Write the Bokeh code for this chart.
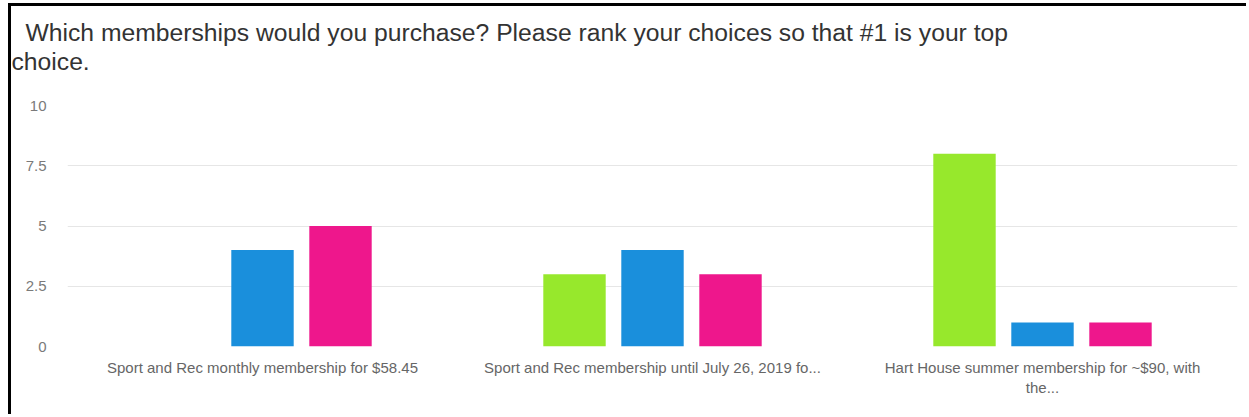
from bokeh.plotting import figure
from bokeh.models import FactorRange, FixedTicker, Range1d, ColumnDataSource, Title
from bokeh.transform import dodge
from bokeh.embed import file_html
from bokeh.resources import INLINE

# ---- data ----
categories = [
    "Sport and Rec monthly membership for $58.45",
    "Sport and Rec membership until July 26, 2019 fo...",
    "Hart House summer membership for ~$90, with\nthe...",
]
series_names = ["Rank 1", "Rank 2", "Rank 3"]
rank1 = [0, 3, 8]
rank2 = [4, 4, 1]
rank3 = [5, 3, 1]
y_ticks = [0, 2.5, 5, 7.5, 10]
y_tick_labels = ["0", "2.5", "5", "7.5", "10"]
title_line1 = "Which memberships would you purchase? Please rank your choices so that #1 is your top"
title_line2 = "choice."

colors = ["#97e82c", "#1a8fdc", "#ee178c"]

source = ColumnDataSource(dict(cat=categories, r1=rank1, r2=rank2, r3=rank3))

p = figure(
    width=1235, height=408,
    x_range=FactorRange(*categories, range_padding=0),
    y_range=Range1d(0, 10),
    output_backend="svg", toolbar_location=None,
    min_border_left=56, min_border_right=12,
    min_border_top=0, min_border_bottom=71,
    background_fill_color="white", border_fill_color="white",
)
p.styles = {
    "margin-left": "8px", "margin-top": "3px",
    "border-left": "3px solid black", "border-top": "3px solid black",
    "border-right": "none", "border-bottom": "none",
    "box-sizing": "content-box",
}
p.outline_line_color = None

offsets = [-0.2, 0.0, 0.2]
for col, off, c in zip(["r1", "r2", "r3"], offsets, colors):
    p.vbar(x=dodge("cat", off, range=p.x_range), top=col, width=0.16,
           source=source, fill_color=c, line_color=None)

p.xgrid.grid_line_color = None
p.ygrid.grid_line_color = "#e6e6e6"
p.ygrid.grid_line_width = 1

p.yaxis.ticker = FixedTicker(ticks=y_ticks)
p.yaxis.major_label_overrides = {t: l for t, l in zip(y_ticks, y_tick_labels)}
p.yaxis.axis_line_color = None
p.yaxis.major_tick_line_color = None
p.yaxis.minor_tick_line_color = None
p.yaxis.major_tick_out = 0
p.yaxis.major_label_standoff = 21
p.yaxis.major_label_text_font = "Liberation Sans"
p.yaxis.major_label_text_font_size = "15px"
p.yaxis.major_label_text_color = "#7a7a7a"

p.xaxis.axis_line_color = None
p.xaxis.major_tick_line_color = None
p.xaxis.major_tick_out = 0
p.xaxis.major_label_standoff = 12
p.xaxis.major_label_text_font = "Liberation Sans"
p.xaxis.major_label_text_font_size = "15px"
p.xaxis.major_label_text_color = "#666666"

title_style = dict(align="left", text_font="Liberation Sans", text_font_size="24.7px",
                   text_font_style="normal", text_color="#333333",
                   vertical_align="bottom")
# spacer between title and plot area
p.add_layout(Title(text=" ", text_font_size="1px", standoff=28), "above")
p.add_layout(Title(text=title_line2, offset=-56, standoff=0, **title_style), "above")
p.add_layout(Title(text=title_line1, offset=-42, standoff=0, **title_style), "above")
# spacer above the title
p.add_layout(Title(text=" ", text_font_size="1px", standoff=7), "above")

open("out.html", "w").write(file_html(p, INLINE))
